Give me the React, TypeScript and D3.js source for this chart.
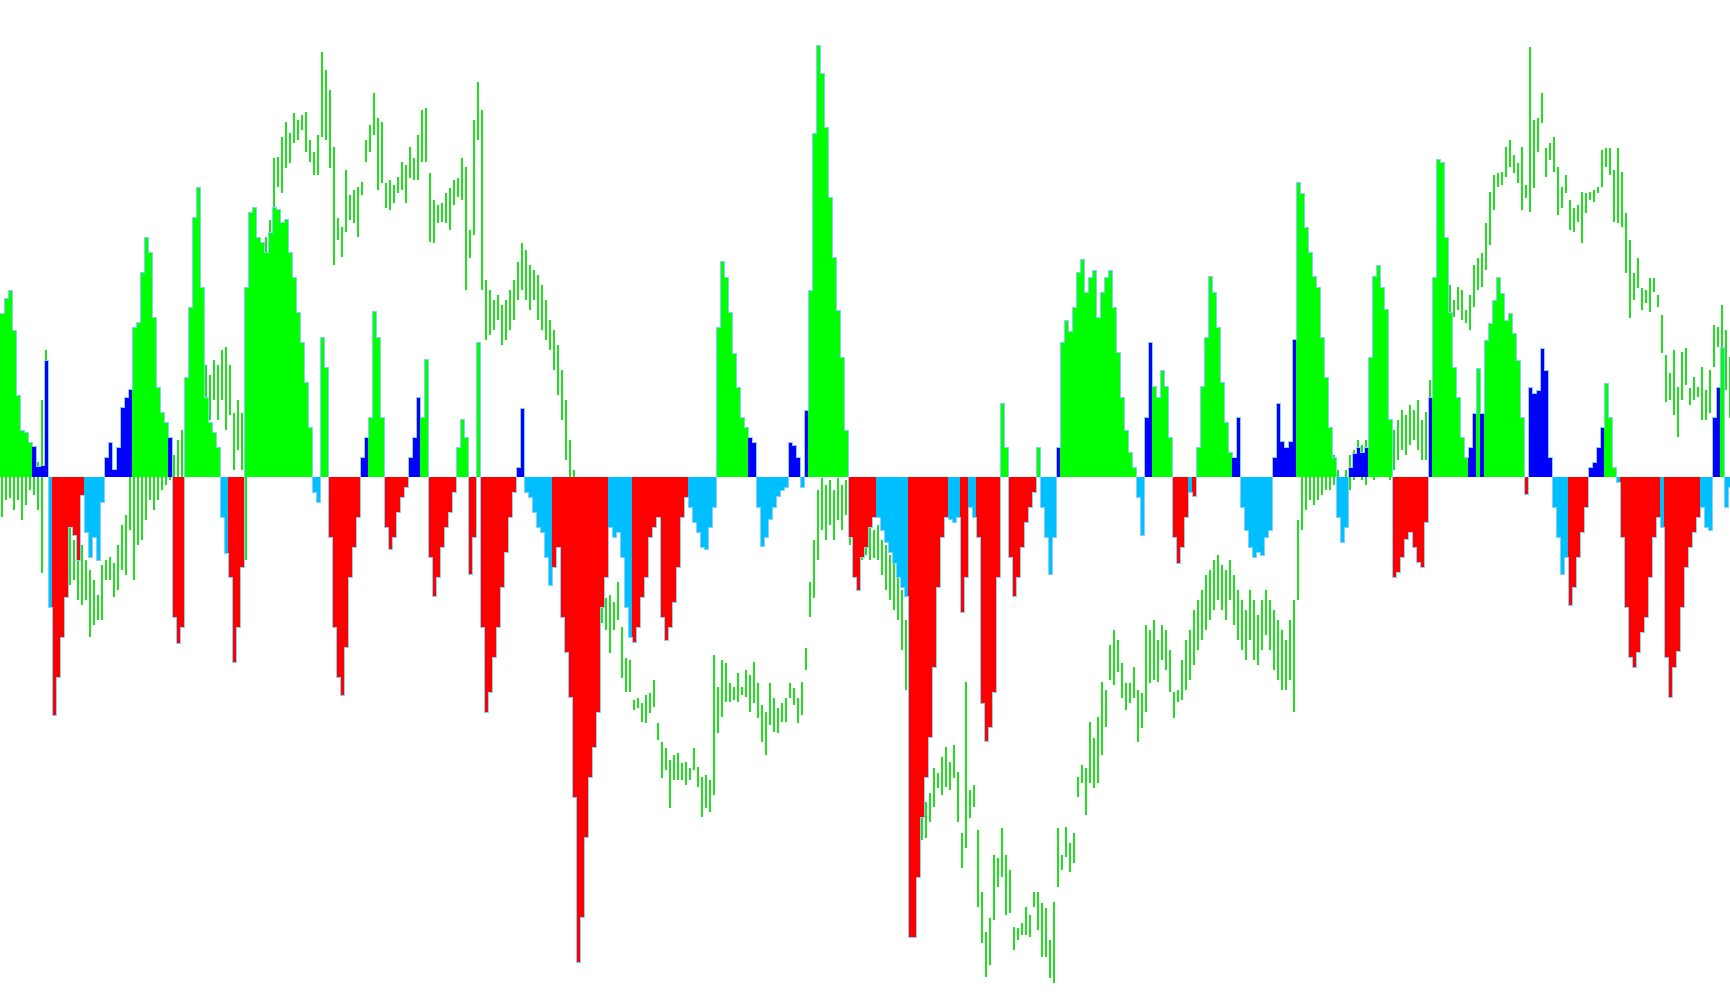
import React, { useEffect } from "react";
import * as d3 from "d3";

// Oscillator histogram values (one per bar)
const histValues: number[] = [
  164,179,187,147,82,47,45,35,31,11,
  12,117,-130,-238,-200,-160,-120,-50,-58,-83,
  -18,-55,-80,-60,-83,-25,20,35,8,30,
  70,80,88,150,155,205,240,225,160,90,
  65,55,40,-140,-166,-150,100,170,260,290,
  190,80,55,45,30,-40,-76,-100,-185,-150,
  -90,190,265,270,240,235,225,245,270,268,
  255,258,225,200,165,135,95,50,-15,-25,
  140,110,-60,-150,-200,-218,-170,-100,-70,-40,
  20,40,60,166,140,60,-50,-72,-60,-35,
  -20,-10,20,40,80,60,118,-80,-119,-100,
  -70,-50,-35,-15,30,58,40,-97,-60,135,
  -150,-235,-215,-180,-150,-110,-75,-40,-15,10,
  69,-15,-20,-35,-50,-55,-80,-108,-90,-70,
  -140,-175,-220,-320,-485,-440,-360,-300,-270,-235,
  -130,-100,-50,-60,-55,-80,-130,-160,-165,-150,
  -120,-100,-60,-50,-40,-140,-163,-150,-125,-90,
  -40,-20,-30,-45,-55,-70,-72,-50,-30,150,
  216,200,165,124,90,60,50,40,35,-30,
  -69,-60,-42,-30,-19,-13,-10,35,32,20,
  -10,67,187,344,432,404,350,280,220,167,
  120,47,-60,-100,-113,-80,-70,-50,-40,-40,
  -53,-65,-75,-86,-100,-110,-119,-460,-460,-400,
  -340,-300,-260,-190,-110,-60,-40,-42,-45,-40,
  -135,-100,-30,-40,-60,-226,-264,-250,-215,-100,
  74,30,-80,-119,-100,-70,-45,-30,-15,30,
  -30,-60,-97,-60,30,135,157,146,170,205,
  218,185,200,207,160,185,200,207,170,125,
  80,47,25,10,-20,-58,60,135,91,80,
  107,91,40,-60,-86,-70,-40,-15,-19,30,
  91,140,201,185,150,95,55,25,20,60,
  -30,-53,-70,-80,-75,-78,-60,-53,20,74,
  36,30,36,138,295,284,250,225,201,190,
  140,100,50,20,-40,-65,-50,10,24,30,
  25,30,120,201,212,190,168,58,-100,-95,
  -80,-62,-55,-70,-85,-90,-45,80,200,318,
  315,240,165,110,80,40,20,30,64,109,
  64,137,154,177,200,184,157,164,144,117,
  60,-17,90,84,87,129,107,20,-30,-60,
  -97,-80,-128,-110,-80,-55,-30,10,15,30,
  50,94,60,10,-5,-60,-130,-180,-190,-175,
  -155,-140,-100,-60,-40,-50,-180,-220,-190,-174,
  -130,-90,-70,-55,-40,-30,-50,-53,60,90,
  130,-30,-10,
];

// Histogram colour state per bar: G strong up, B weak up, R strong down, C weak down
const histStates: string =
  "GGGGGGGGBB" + "BBCRRRRRRR" + "RCCCCCBBBB" + "BBBGGGGGGG" + "GGBRRRGGGG" +
  "GGGGGCCRRR" + "RGGGGGGGGG" + "GGGGGGGGCC" + "GGRRRRRRRR" + "BBGGGGRRRR" +
  "RRBBBGGRRR" + "RRRRGGGRRG" + "RRRRRRRRRB" + "BCCCCCCCRR" + "RRRRRRRRRR" +
  "RRCCCCCCRR" + "RRRRRRRRRR" + "RRCCCCCCCG" + "GGGGGGGBBC" + "CCCCCCCBBB" +
  "CBGGGGGGGG" + "GGRRRRRRRC" + "CCCCCCCRRR" + "RRRRRRRCCC" + "RRCCRRRRRR" +
  "GGRRRRRRRG" + "CCCCBGGGGG" + "GGGGGGGGGG" + "GGGGCCBBGG" + "GGGRRRRCRG" +
  "GGGGGGGGBB" + "CCCCCCCCBB" + "BBBBGGGGGG" + "GGGGCCCBBB" + "BBGGGGGGRR" +
  "RRRRRRRBGG" + "GGGGGGGBBG" + "BGGGGGGGGG" + "GRBBBBBBCC" + "CCRRRRRBBB" +
  "BGGGCRRRRR" + "RRRRRCRRRR" + "RRRRRCCCBB" + "GCC";

// Price bar highs
const priceHigh: number[] = [
  530,535,530,532,528,535,540,530,535,538,
  600,650,520,495,490,485,470,475,460,450,
  455,440,430,420,405,435,440,443,437,455,
  475,485,525,530,540,550,560,570,560,555,
  570,560,555,545,560,570,580,600,620,625,
  620,635,625,640,635,650,653,635,587,600,
  587,587,650,680,710,745,763,780,842,843,
  863,878,867,887,880,885,888,860,848,865,
  948,930,910,853,782,773,830,805,810,813,
  818,860,875,907,882,878,817,820,815,823,
  838,835,853,842,865,890,892,827,800,795,
  797,807,812,820,822,842,833,770,880,918,
  890,720,710,700,705,695,700,710,720,738,
  757,750,735,730,725,715,700,680,670,655,
  630,600,560,530,480,440,420,410,400,405,
  398,402,405,398,418,373,342,340,300,302,
  297,305,307,320,277,258,252,240,245,247,
  237,238,232,252,233,223,225,220,345,313,
  340,337,317,313,327,313,330,325,338,317,
  295,288,317,302,292,297,302,317,312,302,
  318,352,418,460,510,522,515,520,510,522,
  515,520,500,490,485,480,475,480,470,475,
  460,455,445,450,440,410,380,320,280,240,
  210,198,207,232,227,243,253,238,255,228,
  167,318,210,215,170,108,68,82,145,142,
  172,145,130,73,72,77,93,85,108,108,
  97,92,60,98,172,145,173,157,167,223,
  235,232,278,262,283,318,310,355,370,360,
  337,317,317,333,310,307,375,370,380,360,
  375,370,350,308,310,340,360,370,390,400,
  410,425,430,440,445,435,430,440,425,410,
  400,390,410,400,385,400,410,400,390,380,
  370,360,380,400,480,530,535,530,540,535,
  545,540,550,545,530,520,530,545,550,560,
  555,560,565,560,570,560,565,555,570,580,
  590,585,595,590,600,580,588,620,640,680,
  700,710,715,700,713,710,690,705,735,742,
  747,777,808,825,827,828,853,860,845,837,
  853,815,953,880,882,907,852,857,863,833,
  813,825,800,792,795,808,807,808,810,813,
  850,852,852,830,852,828,787,760,727,742,
  712,710,722,722,705,685,645,627,650,613,
  648,652,612,623,613,633,610,630,675,673,
  695,670,643,
];

// Price bar lows
const priceLow: number[] = [
  483,500,502,490,500,480,495,510,505,490,
  427,570,440,430,415,425,435,415,420,400,
  395,400,363,375,380,380,420,420,403,410,
  430,425,470,420,455,460,480,500,490,500,
  510,515,520,500,510,520,530,540,560,570,
  550,575,580,600,580,600,570,585,530,550,
  530,440,550,600,630,670,727,727,777,813,
  807,832,837,857,860,870,848,838,825,825,
  863,860,832,735,760,743,768,780,777,763,
  805,838,848,865,810,817,792,790,797,807,
  810,797,822,820,820,838,838,758,757,777,
  778,777,770,795,803,800,710,742,765,860,
  710,660,665,670,680,655,660,670,680,700,
  710,700,690,700,680,670,660,650,630,605,
  580,540,510,470,420,380,360,360,350,360,
  377,370,347,370,380,322,308,308,290,292,
  278,277,287,293,260,222,230,192,220,220,
  220,215,220,230,213,183,192,188,205,267,
  283,298,298,300,298,305,303,288,297,282,
  258,245,275,268,267,278,278,302,295,277,
  285,330,383,402,440,470,460,475,460,480,
  470,485,455,440,445,440,445,440,442,440,
  425,410,400,390,380,350,310,250,200,170,
  160,162,178,193,212,205,213,210,222,178,
  132,152,182,193,93,57,23,35,80,113,
  123,85,87,50,60,65,65,63,93,70,
  43,43,22,17,113,130,143,128,137,203,
  217,185,217,212,217,245,273,320,315,328,
  302,290,297,302,258,272,288,317,320,318,
  340,330,308,282,298,300,310,320,335,350,
  360,370,380,390,400,390,380,400,375,360,
  350,340,360,340,335,350,365,350,330,320,
  310,310,320,288,400,470,490,500,495,500,
  505,510,510,515,495,475,490,510,520,525,
  520,515,530,520,530,525,530,520,530,540,
  550,545,555,560,550,540,540,570,600,630,
  650,670,683,683,690,680,677,670,693,710,
  713,730,755,790,813,815,823,833,827,817,
  790,802,788,812,848,877,823,840,828,785,
  792,807,770,768,778,757,787,800,798,807,
  813,833,825,778,777,773,727,682,700,712,
  690,697,688,708,693,647,598,600,585,563,
  600,615,595,600,603,580,580,587,633,653,
  587,610,582,
];

const stateColors: Record<string, string> = {
  G: "#00ff00",
  B: "#0000ff",
  R: "#ff0000",
  C: "#00bfff",
};

const W = 1730;
const H = 1005;
const BAR = 4;

export default function App() {
  useEffect(() => {
    document.body.style.margin = "0";
    document.body.style.background = "#ffffff";
  }, []);

  const n = histValues.length;
  const idx = d3.range(n);
  const x = d3.scaleBand<number>().domain(idx).range([0, n * BAR]).padding(0);
  const yHist = d3.scaleLinear().domain([-528, 477]).range([H, 0]);
  const yPrice = d3.scaleLinear().domain([0, 1000]).range([1000, 0]);
  const y0 = yHist(0);

  const edgePts: [number, number][] = idx.map((i) => [x(i)!, yHist(histValues[i])]);
  edgePts.push([x(n - 1)! + x.bandwidth(), yHist(histValues[n - 1])]);
  const edge = d3.line().curve(d3.curveStepAfter)(edgePts) || "";

  return (
    <svg
      width={W}
      height={H}
      style={{ position: "absolute", left: 0, top: 0, display: "block", background: "#fff" }}
    >
      <g shapeRendering="crispEdges">
        {idx.map((i) => {
          const px = Math.floor(x(i)!) + 2;
          return (
            <line
              key={"p" + i}
              x1={px}
              x2={px}
              y1={yPrice(priceHigh[i])}
              y2={yPrice(priceLow[i])}
              stroke="#22dd22"
              strokeWidth={2}
            />
          );
        })}
      </g>
      <g shapeRendering="crispEdges">
        {idx.map((i) => {
          const yv = yHist(histValues[i]);
          return (
            <rect
              key={"h" + i}
              x={x(i)}
              width={x.bandwidth()}
              y={Math.min(yv, y0)}
              height={Math.abs(yv - y0)}
              fill={stateColors[histStates[i]]}
            />
          );
        })}
      </g>
      <path d={edge} fill="none" stroke="#87cefa" strokeWidth={1} shapeRendering="crispEdges" />
    </svg>
  );
}
